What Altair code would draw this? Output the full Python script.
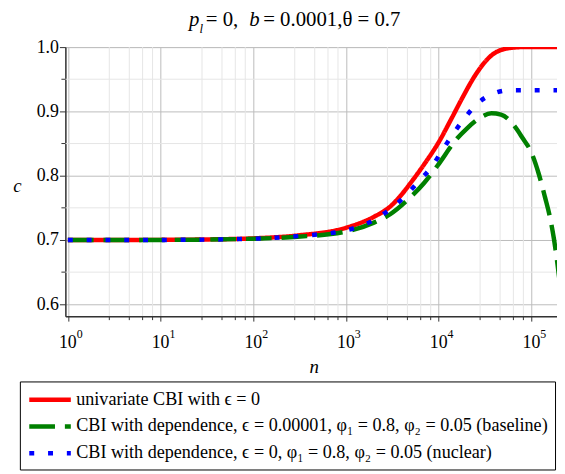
import altair as alt
import pandas as pd

# ---------------- data ----------------
SERIES = [
    "univariate CBI with ϵ = 0",
    "CBI with dependence, ϵ = 0.00001, φ₁ = 0.8, φ₂ = 0.05 (baseline)",
    "CBI with dependence, ϵ = 0, φ₁ = 0.8, φ₂ = 0.05 (nuclear)",
]
COLORS = ["#ff0000", "#008000", "#0000ff"]

n_red = [1, 10, 30, 100, 300, 1000, 2000, 3000, 4000, 5000, 7000, 10000,
         14000, 18000, 25000, 37000, 55000, 80000, 200000]
c_red = [0.700, 0.7002, 0.7008, 0.7025, 0.707, 0.719, 0.736, 0.752, 0.771,
         0.789, 0.818, 0.852, 0.891, 0.921, 0.957, 0.987, 0.998, 1.0, 1.0]

n_green = [1, 10, 100, 300, 1000, 2000, 3000, 5000, 7000, 10000, 15000,
           20000, 28000, 37000, 47000, 65000, 80000, 100000, 120000, 140000,
           160000, 175000, 190000, 200000]
c_green = [0.700, 0.7001, 0.702, 0.705, 0.713, 0.727, 0.740, 0.767, 0.789,
           0.818, 0.854, 0.873, 0.890, 0.897, 0.895, 0.878, 0.859, 0.836,
           0.803, 0.767, 0.733, 0.702, 0.666, 0.640]

n_blue = [1, 10, 100, 300, 1000, 2000, 3000, 4400, 6000, 8500, 11000, 14000,
          18700, 25600, 38000, 60000, 200000]
c_blue = [0.700, 0.7001, 0.702, 0.706, 0.715, 0.731, 0.748, 0.769, 0.790,
          0.815, 0.840, 0.863, 0.888, 0.911, 0.927, 0.933, 0.933]

X_MAJOR = [1, 10, 100, 1000, 10000, 100000]
X_EXP = ["0", "1", "2", "3", "4", "5"]
X_MINOR = [2.8, 4.6, 6.4, 8.2, 28, 46, 64, 82, 280, 460, 640, 820,
           2800, 4600, 6400, 8200, 28000, 46000, 64000, 82000]
Y_MAJOR = [0.6, 0.7, 0.8, 0.9, 1.0]
Y_MINOR = [0.65, 0.75, 0.85, 0.95]

TITLE_PARTS = ["p", "l", "= 0,", "b", "= 0.0001,θ = 0.7"]

# ---------------- layout ----------------
W, H = 497, 272
FONT = "Liberation Serif"
AX = "#333333"

xs = alt.Scale(type="log", domain=[0.94, 189000], nice=False)
ys = alt.Scale(domain=[0.5815, 1.0], nice=False, zero=False)

xaxis = alt.Axis(values=X_MAJOR, labels=False, tickSize=5, tickColor=AX,
                 domainColor=AX, domainWidth=1.5, grid=True,
                 gridColor="#bcbcbc", gridWidth=1, title="n",
                 titleFont=FONT, titleFontSize=19, titleFontStyle="italic",
                 titleFontWeight="normal", titleColor="black",
                 titleX=251, titleY=57, titleBaseline="alphabetic")
yaxis = alt.Axis(values=Y_MAJOR, format=".1f", labelFont=FONT,
                 labelFontSize=18, labelColor="black", labelPadding=1,
                 tickSize=6, tickColor=AX, domainColor=AX, domainWidth=1.5,
                 grid=True, gridColor="#bcbcbc", gridWidth=1, title="c",
                 titleAngle=0, titleX=-49, titleY=140, titleAlign="center",
                 titleBaseline="middle", titleFont=FONT, titleFontSize=19,
                 titleFontStyle="italic", titleFontWeight="normal",
                 titleColor="black")

# a wide horizontal stroke symbol whose nominal size stays small
legend = alt.Legend(title=None, orient="none", legendX=-46, legendY=338,
                    direction="vertical", symbolType="M-1,0H3.667",
                    symbolSize=324, symbolStrokeWidth=4.5,
                    symbolFillColor="transparent",
                    labelFont=FONT, labelFontSize=18.3, labelColor="black",
                    labelLimit=800, labelOffset=27, strokeColor="black",
                    fillColor="white", padding=7, rowPadding=6)

color = alt.Color("series:N", scale=alt.Scale(domain=SERIES, range=COLORS),
                  legend=legend)
dash = alt.StrokeDash("series:N",
                      scale=alt.Scale(domain=SERIES,
                                      range=[[1, 0], [26, 10], [5, 14]]),
                      legend=legend)


def xenc(field):
    return alt.X(field, type="quantitative", scale=xs, axis=xaxis)


def yenc(field):
    return alt.Y(field, type="quantitative", scale=ys, axis=yaxis)


def series_df(ns, cs, name):
    return pd.DataFrame({"n": ns, "c": cs, "series": [name] * len(ns)})


df_red = series_df(n_red, c_red, SERIES[0])
df_green = series_df(n_green, c_green, SERIES[1])
df_blue = series_df(n_blue, c_blue, SERIES[2])

xminor = pd.DataFrame({"v": X_MINOR})
yminor = pd.DataFrame({"v": Y_MINOR})
xmajor = pd.DataFrame({"v": X_MAJOR, "e": X_EXP})

minor_grid_x = alt.Chart(xminor).mark_rule(color="#e6e6e6", strokeWidth=1).encode(
    x=xenc("v"), y=alt.value(0), y2=alt.value(H))
minor_grid_y = alt.Chart(yminor).mark_rule(color="#e6e6e6", strokeWidth=1).encode(
    y=yenc("v"), x=alt.value(0), x2=alt.value(W))
minor_tick_x = alt.Chart(xminor).mark_rule(color=AX, strokeWidth=1).encode(
    x=xenc("v"), y=alt.value(H), y2=alt.value(H + 4))
minor_tick_y = alt.Chart(yminor).mark_rule(color=AX, strokeWidth=1).encode(
    y=yenc("v"), x=alt.value(-4), x2=alt.value(0))


def line_layer(df, **kw):
    return alt.Chart(df).mark_line(strokeWidth=4.5, clip=True,
                                   interpolate="monotone", **kw).encode(
        x=xenc("n"), y=yenc("c"), color=color, strokeDash=dash)


red = line_layer(df_red)
green = line_layer(df_green, strokeCap="butt")
blue = line_layer(df_blue, strokeCap="butt")

lab10 = alt.Chart(xmajor).mark_text(text="10", font=FONT, fontSize=18,
                                    align="center", baseline="alphabetic",
                                    color="black").encode(
    x=xenc("v"), y=alt.value(H + 32))
labexp = alt.Chart(xmajor).mark_text(font=FONT, fontSize=12, align="left",
                                     baseline="alphabetic", dx=9,
                                     color="black").encode(
    x=xenc("v"), y=alt.value(H + 22), text="e:N")


def title_piece(i, x, y, size, style):
    d = pd.DataFrame({"t": [TITLE_PARTS[i]]})
    return alt.Chart(d).mark_text(font=FONT, fontSize=size, fontStyle=style,
                                  align="left", baseline="alphabetic",
                                  color="black").encode(
        text="t:N", x=alt.value(x), y=alt.value(y))


title_layers = [
    title_piece(0, 125, -21, 21, "italic"),
    title_piece(1, 135.5, -14, 13, "italic"),
    title_piece(2, 142, -21, 21, "normal"),
    title_piece(3, 186, -21, 21, "italic"),
    title_piece(4, 200, -21, 21, "normal"),
]

chart = alt.layer(
    minor_grid_x, minor_grid_y, red, green, blue, minor_tick_x, minor_tick_y,
    lab10, labexp, *title_layers
).properties(
    width=W, height=H,
    autosize=alt.AutoSizeParams(type="none"),
    padding={"left": 58, "top": 37, "right": 0, "bottom": 155},
).configure_view(stroke=None).configure(background="white")

chart.save("out.html", embed_options={"renderer": "svg", "actions": False})
